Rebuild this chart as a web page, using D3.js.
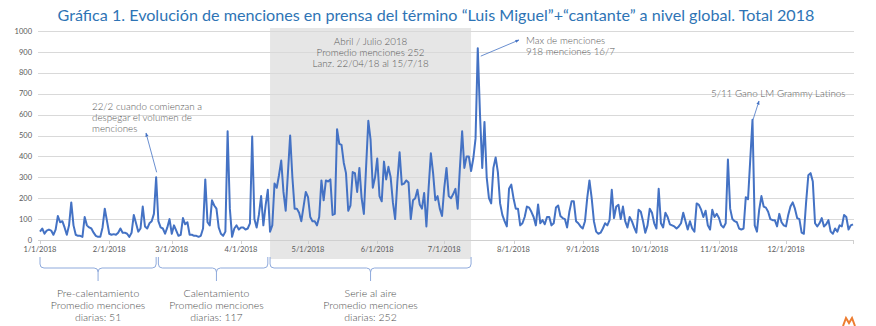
<!DOCTYPE html>
<html><head><meta charset="utf-8">
<script src="https://cdn.jsdelivr.net/npm/d3@7"></script>
<style>body{margin:0;background:#fff}svg{display:block;font-family:Lato,"Open Sans",sans-serif}.lt{font-weight:300}</style>
</head><body><svg id="c" width="876" height="326"></svg>
<script>
// Daily mentions per month, 2018
const jan=[40,55,30,45,50,45,25,50,115,85,90,60,25,70,180,70,25,20,20,15,110,70,60,55,35,20,15,15,60,150,90];
const feb=[30,25,28,25,35,55,35,35,30,15,35,120,80,40,55,160,65,55,80,90,125,300,90,60,55,30,60,100];
const mar=[30,70,45,20,25,105,75,85,25,25,20,20,15,20,55,290,85,70,190,165,150,60,30,20,40,520,150,15,55,70,50];
const apr=[60,60,50,55,80,495,100,60,120,210,70,165,240,40,70,270,250,310,380,230,140,320,500,300,150,150,130,90,160,230];
const may=[205,110,90,90,70,110,285,190,285,280,290,120,125,530,460,455,370,320,140,165,325,320,230,345,200,125,350,570,480,250,300];
const jun=[390,210,185,375,290,350,300,180,100,280,420,265,270,285,275,100,190,200,240,170,150,225,65,250,415,320,190,210,150,115];
const jul=[250,345,210,200,220,245,150,345,520,345,400,400,330,390,485,918,600,345,565,300,200,175,345,395,325,175,120,90,65,245,265];
const aug=[200,150,150,70,80,110,160,155,135,110,70,170,80,95,75,110,110,70,80,155,165,115,105,100,60,135,185,185,90,80,65];
const sep=[55,90,200,285,200,90,40,30,35,55,80,70,95,240,105,160,168,100,160,90,60,110,90,60,35,145,135,90,35,70];
const oct=[150,130,80,55,245,80,60,130,110,75,70,65,55,65,80,130,90,50,90,55,40,175,168,145,110,140,70,50,145,110,125];
const nov=[105,70,60,80,385,150,100,90,85,55,50,55,205,195,385,575,70,40,145,210,160,155,135,100,95,95,65,125,85,70];
const dec=[65,120,160,180,150,105,100,35,30,180,310,320,280,80,65,80,105,65,75,95,40,30,55,40,70,65,120,110,50,70,75];
const months=[jan,feb,mar,apr,may,jun,jul,aug,sep,oct,nov,dec];
const yTicks=[0,100,200,300,400,500,600,700,800,900,1000];
const xTickLabels=["1/1/2018","2/1/2018","3/1/2018","4/1/2018","5/1/2018","6/1/2018","7/1/2018","8/1/2018","9/1/2018","10/1/2018","11/1/2018","12/1/2018"];
const title="Gráfica 1. Evolución de menciones en prensa del término \u201cLuis Miguel\u201d+\u201ccantante\u201d a nivel global. Total 2018";
const periods=[
 {from:[2018,0,1],to:[2018,1,22],center:[2018,0,27],lines:["Pre-calentamiento","Promedio menciones","diarias: 51"]},
 {from:[2018,1,23],to:[2018,3,13],center:[2018,2,21],lines:["Calentamiento","Promedio menciones","diarias: 117"]},
 {from:[2018,3,14],to:[2018,6,13],center:[2018,4,29],lines:["Serie al aire","Promedio menciones","diarias: 252"]}
];
const boxLines=["Abril / Julio 2018","Promedio menciones 252","Lanz. 22/04/18 al 15/7/18"];
const note1=["22/2 cuando comienzan a","despegar el volumen de","menciones"];
const note2=["Max de menciones","918 menciones 16/7"];
const note3=["5/11 Gano LM Grammy Latinos"];

const data=[];
months.forEach((arr,m)=>arr.forEach((v,i)=>data.push({date:new Date(2018,m,i+1),value:v})));

const svg=d3.select("#c");
const x=d3.scaleTime().domain([new Date(2018,0,1),new Date(2018,11,31)]).range([40,853]);
const y=d3.scaleLinear().domain([0,1000]).range([240,31]);
const gray="#595959", blue="#4472C4";

// shaded box
const bx0=x(new Date(2018,3,14)), bx1=x(new Date(2018,6,13));
svg.append("rect").attr("x",bx0).attr("y",28).attr("width",bx1-bx0).attr("height",231).attr("fill","#e6e6e6");

// gridlines
svg.append("g").selectAll("line").data(yTicks.slice(1)).join("line")
 .attr("x1",38).attr("x2",854).attr("y1",d=>Math.round(y(d))+0.5).attr("y2",d=>Math.round(y(d))+0.5)
 .attr("stroke","#d9d9d9").attr("stroke-width",1);
// y labels
svg.append("g").selectAll("text").data(yTicks).join("text")
 .attr("x",32).attr("y",d=>y(d)).attr("dy","0.35em").attr("text-anchor","end")
 .attr("font-size",7.5).attr("fill",gray).text(d=>d);
// x axis
svg.append("line").attr("x1",38).attr("x2",854).attr("y1",240.5).attr("y2",240.5).attr("stroke","#d0d0d0");
const monthDates=d3.range(12).map(m=>new Date(2018,m,1));
svg.append("g").selectAll("line").data(monthDates.concat([new Date(2018,11,31)])).join("line")
 .attr("x1",d=>Math.round(x(d))+0.5).attr("x2",d=>Math.round(x(d))+0.5).attr("y1",240).attr("y2",244).attr("stroke","#d0d0d0");
svg.append("g").selectAll("text").data(monthDates).join("text")
 .attr("x",d=>x(d)).attr("y",252).attr("text-anchor","middle").attr("font-size",7.5).attr("fill",gray)
 .text((d,i)=>xTickLabels[i]);

// line
svg.append("path").datum(data).attr("fill","none").attr("stroke",blue).attr("stroke-width",2).attr("stroke-linejoin","round")
 .attr("d",d3.line().x(d=>x(d.date)).y(d=>y(d.value)));

// title
const t=svg.append("text").attr("x",436).attr("y",21).attr("text-anchor","middle").attr("font-size",16).attr("fill","#2E74B5").text(title);
const w=t.node().getComputedTextLength(); t.attr("font-size",16*758/w);

// box text
svg.append("g").attr("class","lt").selectAll("text").data(boxLines).join("text")
 .attr("x",(bx0+bx1)/2).attr("y",(d,i)=>44.5+i*11.3).attr("text-anchor","middle").attr("font-size",9.8).attr("fill",gray).text(d=>d);

// arrow marker
svg.append("defs").append("marker").attr("id","ah").attr("viewBox","0 0 10 10").attr("refX",9).attr("refY",5)
 .attr("markerWidth",5).attr("markerHeight",5).attr("orient","auto")
 .append("path").attr("d","M0,1L10,5L0,9Z").attr("fill",blue);
function arrow(x1,y1,x2,y2){svg.append("line").attr("x1",x1).attr("y1",y1).attr("x2",x2).attr("y2",y2)
 .attr("stroke",blue).attr("stroke-width",0.8).attr("marker-end","url(#ah)");}

// note 1
svg.append("g").attr("class","lt").selectAll("text").data(note1).join("text").attr("x",92).attr("y",(d,i)=>110+i*11.2)
 .attr("font-size",9.8).attr("fill",gray).text(d=>d);
arrow(x(new Date(2018,1,22))+0.5,y(300)-5,146,133);
// note 2
svg.append("g").attr("class","lt").selectAll("text").data(note2).join("text").attr("x",526).attr("y",(d,i)=>44+i*11.2)
 .attr("font-size",9.8).attr("fill",gray).text(d=>d);
arrow(x(new Date(2018,6,16))+3,y(918)+8,519,40);
// note 3
svg.append("g").attr("class","lt").selectAll("text").data(note3).join("text").attr("x",711).attr("y",97)
 .attr("font-size",9.8).attr("fill",gray).text(d=>d);
arrow(x(new Date(2018,10,16))+0.5,y(575),759,101);

// brackets
const bt=257, bh=268, bc=281;
periods.forEach(p=>{
 const x1=x(new Date(...p.from)), x2=x(new Date(...p.to)), xc=x(new Date(...p.center));
 const d=`M${x1},${bt}L${x1},${bh-4}Q${x1},${bh} ${x1+4},${bh}L${xc-4},${bh}Q${xc},${bh} ${xc},${bh+4}L${xc},${bc}`+
  `M${xc},${bh+4}Q${xc},${bh} ${xc+4},${bh}L${x2-4},${bh}Q${x2},${bh} ${x2},${bh-4}L${x2},${bt}`;
 svg.append("path").attr("d",d).attr("fill","none").attr("stroke","#8faadc").attr("stroke-width",1);
 svg.append("g").attr("class","lt").selectAll("text").data(p.lines).join("text").attr("x",xc).attr("y",(d,i)=>297+i*12)
  .attr("text-anchor","middle").attr("font-size",10.5).attr("fill","#505050").text(d=>d);
});

// small logo mark
svg.append("path").attr("d","M843,326L846,318L849,323L852,318L855,326").attr("fill","none").attr("stroke","#ED7D31").attr("stroke-width",2);
</script></body></html>
